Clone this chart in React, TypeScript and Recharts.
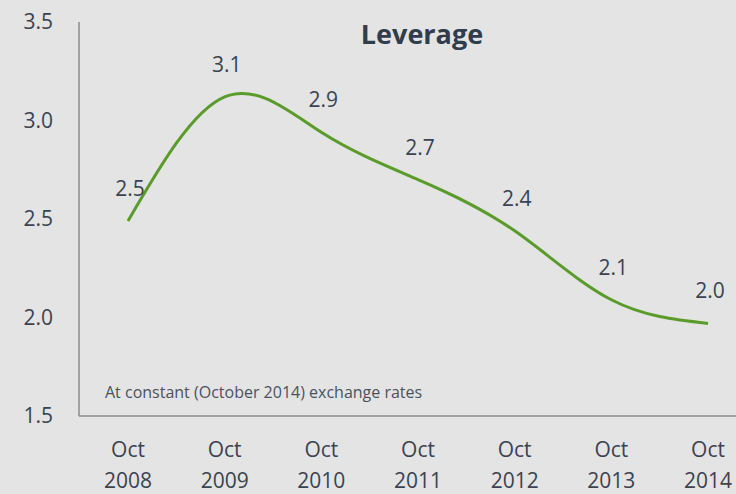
import { CartesianGrid, LabelList, Line, LineChart, XAxis, YAxis } from "recharts";

const months = ["Oct", "Oct", "Oct", "Oct", "Oct", "Oct", "Oct"];
const years = ["2008", "2009", "2010", "2011", "2012", "2013", "2014"];
const leverage = [2.49, 3.12, 2.94, 2.7, 2.44, 2.09, 1.97];
const yTicks = [1.5, 2.0, 2.5, 3.0, 3.5];

const data = years.map((year, i) => ({
  name: `${months[i]} ${year}`,
  month: months[i],
  year,
  leverage: leverage[i],
}));

const font = "'Open Sans', sans-serif";
const textColor = "#3b4351";

const XTick = (props: any) => {
  const { x, y, payload } = props;
  const [m, yr] = String(payload.value).split(" ");
  return (
    <text x={x} y={y} textAnchor="middle" fill={textColor} fontFamily={font} fontSize={21}>
      <tspan x={x} dy={33}>{m}</tspan>
      <tspan x={x} dy={31}>{yr}</tspan>
    </text>
  );
};

const ValueLabel = (props: any) => {
  const { x, y, value } = props;
  return (
    <text x={x + 2} y={y - 25} textAnchor="middle" fill={textColor} fontFamily={font} fontSize={21}>
      {Number(value).toFixed(1)}
    </text>
  );
};

const App = () => {
  return (
    <div
      style={{
        position: "fixed",
        left: 0,
        top: 0,
        width: 736,
        height: 494,
        overflow: "hidden",
        background: "#e4e4e4",
      }}
    >
      <LineChart width={757} height={494} data={data} margin={{ top: 22, right: 0, bottom: 0, left: 0 }}>
        <CartesianGrid stroke="none" />
        <XAxis
          dataKey="name"
          height={78}
          padding={{ left: 49, right: 49 }}
          axisLine={{ stroke: "#8c8c8c", strokeWidth: 1.5 }}
          tickLine={false}
          tick={<XTick />}
          interval={0}
        />
        <YAxis
          width={79}
          domain={[1.5, 3.5]}
          ticks={yTicks}
          tickFormatter={(v: number) => v.toFixed(1)}
          axisLine={{ stroke: "#8c8c8c", strokeWidth: 1.5 }}
          tickLine={false}
          tickSize={0}
          tickMargin={26}
          tick={{ fill: textColor, fontFamily: font, fontSize: 21 }}
        />
        <Line
          type="natural"
          dataKey="leverage"
          stroke="#5b9b2b"
          strokeWidth={3}
          dot={false}
          isAnimationActive={false}
        >
          <LabelList dataKey="leverage" content={<ValueLabel />} />
        </Line>
        <text x={422} y={44} textAnchor="middle" fill="#2f3d4c" fontFamily={font} fontWeight="bold" fontSize={27}>
          Leverage
        </text>
        <text x={105} y={398} fill="#4a5260" fontFamily={font} fontSize={16}>
          At constant (October 2014) exchange rates
        </text>
      </LineChart>
    </div>
  );
};

export default App;
